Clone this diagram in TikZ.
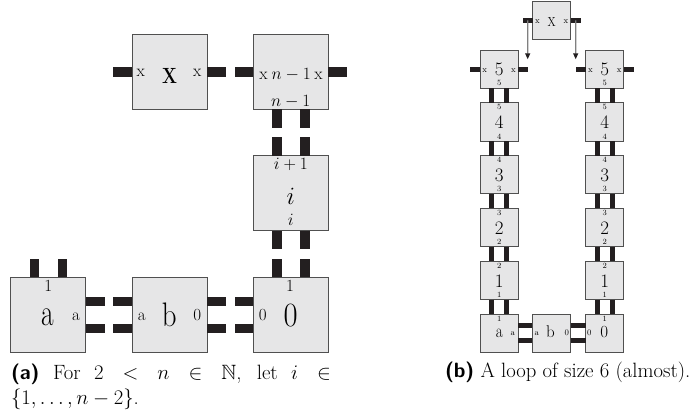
\documentclass[tikz,border=0pt]{standalone}
\usepackage{fontspec}
\usepackage{amssymb}
\usetikzlibrary{calc,arrows.meta}
\definecolor{boxfill}{HTML}{E6E6E7}
\definecolor{boxline}{HTML}{505050}
\definecolor{stubc}{HTML}{231F20}
\definecolor{arrc}{HTML}{808080}
\tikzset{
  tile/.style={draw=boxline, fill=boxfill, line width=1pt, minimum size=#1, inner sep=0pt, outer sep=0pt},
  lbl/.style={inner sep=0pt, outer sep=0pt, font={\rmfamily\fontsize{#1pt}{#1pt}\selectfont}},
  half/.style={fill=stubc},
  bar/.style={draw=stubc, line width=5pt},
  garrow/.style={draw=arrc, line width=1.2pt, -{Triangle[length=6pt,width=5pt,color=stubc]}},
  captext/.style={inner sep=0pt, outer sep=0pt, font=\fontsize{20.7pt}{24.6pt}\selectfont}
}
\begin{document}
\begin{tikzpicture}[x=1pt,y=-1pt]
\useasboundingbox (0,0) rectangle (689,417);
%% ---------------- (a) ----------------
\node[tile=75pt] (X) at (169.5,72) {};
\node[tile=75pt] (N) at (290.8,72) {};
\node[tile=75pt] (I) at (290.8,193.5) {};
\node[tile=75pt] (A) at (48.2,315) {};
\node[tile=75pt] (B) at (169.5,315) {};
\node[tile=75pt] (Z) at (290.8,315) {};
% half connectors
\fill[half] ($(X.west)+(-18.7,-4.7)$) rectangle ++(18.7,9.4);
\fill[half] ($(X.east)+(0,-4.7)$) rectangle ++(18.7,9.4);
\fill[half] ($(N.west)+(-18.7,-4.7)$) rectangle ++(18.7,9.4);
\fill[half] ($(N.east)+(0,-4.7)$) rectangle ++(18.7,9.4);
\foreach \dx in {-14,14}{
  \fill[half] ($(N.south)+(\dx-4.7,0)$) rectangle ++(9.4,18.4);
  \fill[half] ($(I.north)+(\dx-4.7,0)$) rectangle ++(9.4,-19);
  \fill[half] ($(I.south)+(\dx-4.7,0)$) rectangle ++(9.4,18.5);
  \fill[half] ($(Z.north)+(\dx-4.7,0)$) rectangle ++(9.4,-18.4);
  \fill[half] ($(A.north)+(\dx-4.7,0)$) rectangle ++(9.4,-18.4);
}
\foreach \dy in {-13.7,13.7}{
  \fill[half] ($(A.east)+(0,\dy-4.7)$) rectangle ++(19,9.4);
  \fill[half] ($(B.west)+(-18.7,\dy-4.7)$) rectangle ++(18.7,9.4);
  \fill[half] ($(B.east)+(0,\dy-4.7)$) rectangle ++(18.7,9.4);
  \fill[half] ($(Z.west)+(-18.3,\dy-4.7)$) rectangle ++(18.3,9.4);
}
% labels (a)
\node[lbl=17, anchor=base] (Xl) at (140.7,77) {x};
\node[lbl=17, anchor=base] (Xr) at (197.3,77) {x};
\node[lbl=22, anchor=base] (Xc) at (169.5,83.3) {\scalebox{0.8}[1]{\textbf{X}}};
\node[lbl=17, anchor=base] (Nt) at (291,79.3) {x\kern4pt$n-1$\kern3.5pt x};
\node[lbl=16.5, anchor=base] (Nb) at (290.8,106.7) {$n-1$};
\node[lbl=16, anchor=base] (It) at (290.8,170) {$i+1$};
\node[lbl=32, anchor=base] (Ic) at (290.8,205) {$i$};
\node[lbl=16, anchor=base] (Ib) at (290.8,226) {$i$};
\node[lbl=17, anchor=base] (At) at (48.2,291.7) {1};
\node[lbl=38, anchor=base] (Ac) at (47.3,325.5) {\scalebox{0.72}[1]{a}};
\node[lbl=17, anchor=base] (Ar) at (76,320.5) {a};
\node[lbl=17, anchor=base] (Bl) at (141.7,320.5) {a};
\node[lbl=34, anchor=base] (Bc) at (169.3,326.7) {\scalebox{0.85}[1]{b}};
\node[lbl=17, anchor=base] (Br) at (197.3,320.5) {0};
\node[lbl=17, anchor=base] (Zt) at (290,291.7) {1};
\node[lbl=17, anchor=base] (Zl) at (262.7,320.5) {0};
\node[lbl=34, anchor=base] (Zc) at (290.7,326.7) {\scalebox{0.9}[1]{0}};
%% ---------------- (b) ----------------
\node[tile=38.3pt] (MX) at (551.8,20.8) {};
\foreach \n/\y in {5/69.2,4/122,3/174.8,2/227.6,1/280.4}{
  \node[tile=38.3pt] (L\n) at (499.2,\y) {};
  \node[tile=38.3pt] (R\n) at (604.8,\y) {};
}
\node[tile=38.3pt] (LA) at (499.2,333.2) {};
\node[tile=38.3pt] (MB) at (551.5,333.2) {};
\node[tile=38.3pt] (RZ) at (604.8,333.2) {};
% connectors
\foreach \s in {L,R}{
  \foreach \dx in {-7.5,7.5}{
    \draw[bar] ([xshift=\dx pt]\s5.south) -- ([xshift=\dx pt]\s4.north);
    \draw[bar] ([xshift=\dx pt]\s4.south) -- ([xshift=\dx pt]\s3.north);
    \draw[bar] ([xshift=\dx pt]\s3.south) -- ([xshift=\dx pt]\s2.north);
    \draw[bar] ([xshift=\dx pt]\s2.south) -- ([xshift=\dx pt]\s1.north);
  }
}
\foreach \dx in {-7.5,7.5}{
  \draw[bar] ([xshift=\dx pt]L1.south) -- ([xshift=\dx pt]LA.north);
  \draw[bar] ([xshift=\dx pt]R1.south) -- ([xshift=\dx pt]RZ.north);
}
\foreach \dy in {-7.3,7.3}{
  \draw[bar] ([yshift=\dy pt]LA.east) -- ([yshift=\dy pt]MB.west);
  \draw[bar] ([yshift=\dy pt]MB.east) -- ([yshift=\dy pt]RZ.west);
}
\draw[bar] (L5.west) -- ++(-10,0);
\draw[bar] (L5.east) -- ++(9.4,0);
\draw[bar] (R5.west) -- ++(-9.4,0);
\draw[bar] (R5.east) -- ++(10,0);
\draw[bar] ([yshift=0.3pt]MX.west) -- ++(-9.4,0);
\draw[bar] ([yshift=0.3pt]MX.east) -- ++(10,0);
\coordinate (tipL) at (527.7,59.3);
\coordinate (tipR) at (575.7,59.3);
\draw[garrow] ($(MX.west)+(-5,-0.3)$) -- (tipL);
\draw[garrow] ($(MX.east)+(4.7,-0.3)$) -- (tipR);
% labels (b)
\node[lbl=8.5, anchor=base] at (537.3,24) {x};
\node[lbl=8.5, anchor=base] at (566,24) {x};
\node[lbl=13, anchor=base] at (551.7,26.5) {\scalebox{0.85}[1]{X}};
\foreach \s/\cx in {L/499.2,R/604.8}{
  \node[lbl=8.5, anchor=base] at (\cx-14.5,72.5) {x};
  \node[lbl=8.5, anchor=base] at (\cx+14.3,72.5) {x};
  \node[lbl=19, anchor=base] at (\cx,76) {5};
  \node[lbl=8, anchor=base] at (\cx,85.2) {5};
  \foreach \n/\y in {4/122,3/174.8,2/227.6,1/280.4}{
    \node[lbl=19, anchor=center] at (\cx,\y+0.5) {\n};
    \pgfmathtruncatemacro{\up}{\n+1}
    \node[lbl=8, anchor=center] at (\cx,\y-15) {\up};
    \node[lbl=8, anchor=center] at (\cx,\y+14.5) {\n};
  }
  \node[lbl=8, anchor=center] at (\cx,318.5) {1};
}
\node[lbl=19, anchor=base] at (499.3,337.7) {\scalebox{0.8}[1]{a}};
\node[lbl=8.5, anchor=base] at (512.7,335) {a};
\node[lbl=8.5, anchor=base] at (536.7,335) {a};
\node[lbl=17, anchor=base] at (550.5,337.7) {b};
\node[lbl=8.5, anchor=base] at (566.7,335) {0};
\node[lbl=8.5, anchor=base] at (589.3,335) {0};
\node[lbl=17, anchor=base] at (604.3,337.7) {0};
%% ---------------- captions ----------------
\node[captext, anchor=north west, text width=339pt, align=justify] (capA) at (11,364)
  {\textsf{\bfseries (a)} For $2<n\in\mathbb{N}$, let $i\in{}$\linebreak$\{1,\ldots,n-2\}$.};
\node[captext, anchor=base west] (capB) at (445,377.5)
  {\textsf{\bfseries (b)} A loop of size 6 (almost).};
\end{tikzpicture}
\end{document}
